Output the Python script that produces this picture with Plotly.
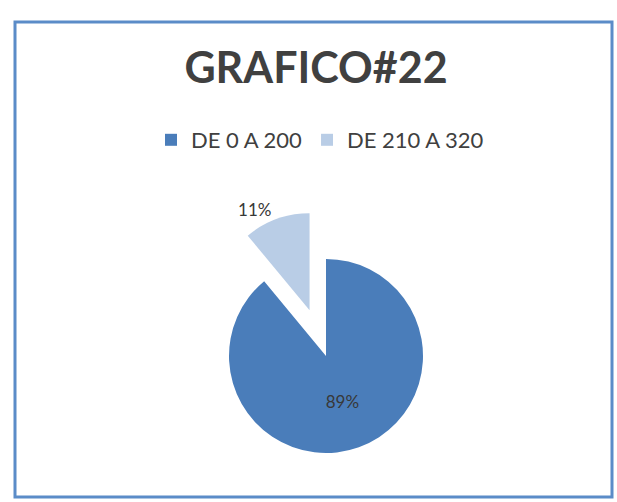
import plotly.graph_objects as go

labels = ["DE 0 A 200", "DE 210 A 320"]
values = [89, 11]
colors = ["#4a7dba", "#b9cde6"]
pulls = [0, 0.5]
text_pos = ["inside", "outside"]

W, H = 617, 502
cx, cy, r = 326, 356, 97
half = r * (1 + max(pulls))

fig = go.Figure(go.Pie(
    labels=labels, values=values, sort=False, direction="clockwise", rotation=0,
    marker=dict(colors=colors, line=dict(width=0)),
    pull=pulls, textinfo="percent", textposition=text_pos,
    texttemplate="%{percent:.0%}",
    textfont=dict(family="Lato", size=17, color="#383838"),
    domain=dict(x=[(cx - half) / W, (cx + half) / W],
                y=[(H - cy - half) / H, (H - cy + half) / H]),
    hoverinfo="label+percent",
))

fig.update_layout(
    width=W, height=H, autosize=False,
    margin=dict(l=0, r=0, t=0, b=0, pad=0, autoexpand=False),
    paper_bgcolor="white", plot_bgcolor="white",
    title=dict(text="<b>GRAFICO#22</b>", x=316 / W, xanchor="center",
               y=1 - 68 / H, yanchor="middle",
               font=dict(family="Lato", size=43, color="#404040")),
    legend=dict(orientation="h", x=320 / W, xanchor="center", y=1 - 140 / H, yanchor="middle",
                font=dict(family="Lato", size=22, color="#404040"),
                itemwidth=30, traceorder="normal"),
    shapes=[dict(type="rect", xref="paper", yref="paper",
                 x0=15 / W, x1=612 / W, y0=1 - 497 / H, y1=1 - 22 / H,
                 line=dict(color="#5b8cc8", width=3), fillcolor="rgba(0,0,0,0)")],
)

fig.write_html("out.html",
               config={"responsive": False, "displayModeBar": False},
               post_script="document.body.style.margin='0';document.body.style.overflow='hidden';")
